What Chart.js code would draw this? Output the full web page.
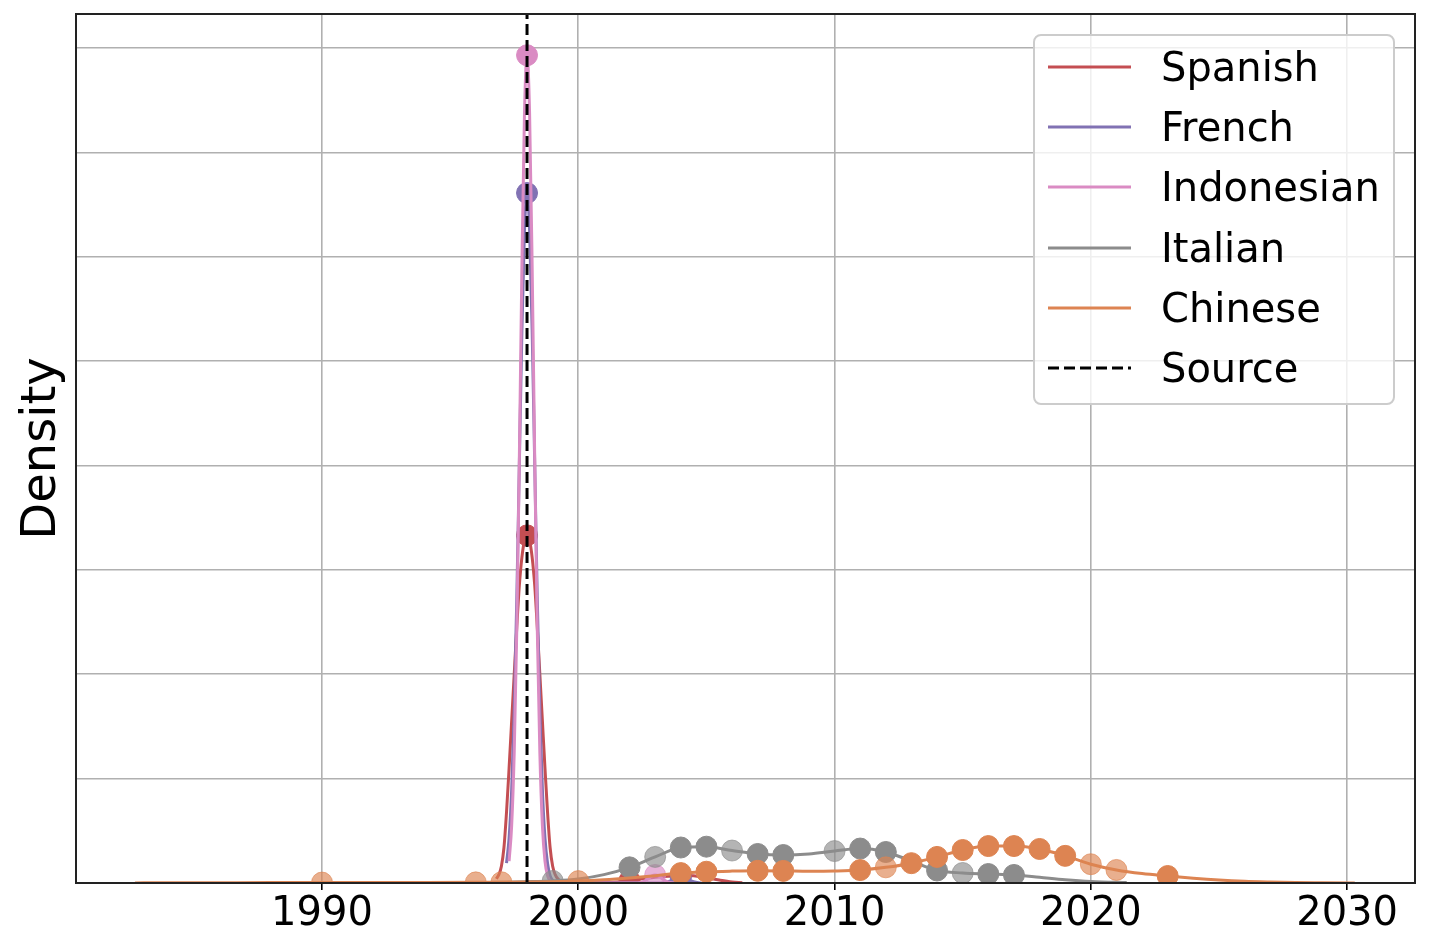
<!DOCTYPE html>
<html>
<head>
<meta charset="utf-8">
<script src="https://cdn.jsdelivr.net/npm/chart.js@4.4.1/dist/chart.umd.min.js"></script>
<style>
  html, body { margin: 0; padding: 0; background: #fff; }
  #wrap { position: relative; width: 1430px; height: 952px; }
  #legend {
    position: absolute; left: 1033px; top: 34px; width: 362px; height: 371px;
    box-sizing: border-box; border: 2px solid #cccccc; border-radius: 8px;
    background: rgba(255,255,255,0.8);
    font-family: 'DejaVu Sans', sans-serif; font-size: 40px; color: #000;
  }
  .row { position: absolute; left: 0; width: 100%; height: 40px; }
  .row svg { position: absolute; left: 13px; top: 15px; }
  .row span { position: absolute; left: 126px; top: 0; line-height: 40px; white-space: nowrap; }
</style>
</head>
<body>
<div id="wrap">
  <canvas id="kde" width="1430" height="952"></canvas>
  <div id="legend"></div>
</div>
<script>
// KDE of first-appearance years per language, with the source year marked.

const tickYears = [1990, 2000, 2010, 2020, 2030];
const densityGrid = [0, 1, 2, 3, 4, 5, 6, 7, 8];
const densityTop = 8.325;
const sourceYear = 1998;

// curves
const spanishYears = [1996.8, 1996.9, 1997.0, 1997.1, 1997.2, 1997.3, 1997.4, 1997.5, 1997.6, 1997.7, 1997.8, 1997.9, 1998.0,
  1998.1, 1998.2, 1998.3, 1998.4, 1998.5, 1998.6, 1998.7, 1998.8, 1998.9, 1999.0, 1999.1, 1999.2, 1999.3, 1999.6,
  2000, 2001, 2001.5, 2002, 2002.5, 2003, 2003.5, 2004, 2004.5, 2005, 2005.5, 2006, 2006.4];
const spanishDensity = [0.04, 0.08, 0.16, 0.34, 0.68, 1.1, 1.55, 2.0, 2.45, 2.85, 3.12, 3.28, 3.33,
  3.28, 3.12, 2.85, 2.45, 2.0, 1.55, 1.1, 0.68, 0.34, 0.16, 0.08, 0.04, 0.02, 0.01,
  0.006, 0.005, 0.01, 0.025, 0.04, 0.055, 0.065, 0.072, 0.07, 0.05, 0.028, 0.01, 0.003];

const frenchYears = [1997.2, 1997.3, 1997.4, 1997.5, 1997.6, 1997.7, 1997.8, 1997.9, 1998.0,
  1998.1, 1998.2, 1998.3, 1998.4, 1998.5, 1998.6, 1998.7, 1998.8, 1998.9, 1999.1, 1999.5,
  2003.2, 2003.5, 2003.7, 2003.85, 2004.0, 2004.15, 2004.3, 2004.5, 2004.8];
const frenchDensity = [0.19, 0.43, 0.89, 1.65, 2.72, 4.01, 5.29, 6.25, 6.61,
  6.25, 5.29, 4.01, 2.72, 1.65, 0.89, 0.43, 0.19, 0.07, 0.01, 0.0,
  0.0, 0.012, 0.03, 0.045, 0.05, 0.045, 0.03, 0.012, 0.0];

const indonesianYears = [1997.3, 1997.4, 1997.5, 1997.6, 1997.7, 1997.8, 1997.9, 1998.0,
  1998.1, 1998.2, 1998.3, 1998.4, 1998.5, 1998.6, 1998.7, 1998.8, 1999.0, 1999.3,
  2002.3, 2002.5, 2002.7, 2002.85, 2003.0, 2003.15, 2003.3, 2003.5, 2003.8];
const indonesianDensity = [0.21, 0.55, 1.25, 2.43, 4.07, 5.9, 7.37, 7.93,
  7.37, 5.9, 4.07, 2.43, 1.25, 0.55, 0.21, 0.07, 0.01, 0.0,
  0.0, 0.01, 0.035, 0.065, 0.077, 0.065, 0.035, 0.01, 0.0];

const italianYears = [1995, 1996, 1997, 1998, 1999, 2000, 2001, 2002, 2003, 2004, 2005, 2006, 2007, 2008,
  2009, 2010, 2011, 2012, 2013, 2014, 2015, 2016, 2017, 2018, 2019, 2020, 2021, 2021.4];
const italianDensity = [0.001, 0.003, 0.007, 0.012, 0.02, 0.038, 0.08, 0.15, 0.25, 0.34, 0.348, 0.311, 0.278, 0.268,
  0.278, 0.306, 0.33, 0.297, 0.21, 0.12, 0.096, 0.086, 0.077, 0.055, 0.032, 0.015, 0.006, 0.004];

const chineseYears = [1982.7, 1984, 1986, 1988, 1990, 1992, 1994, 1996, 1997, 1998, 1999, 2000, 2001, 2002, 2003,
  2004, 2005, 2006, 2007, 2008, 2009, 2010, 2011, 2012, 2013, 2014, 2015, 2016, 2017, 2018, 2019, 2020,
  2021, 2022, 2023, 2024, 2025, 2026, 2027, 2028, 2029, 2030.3];
const chineseDensity = [0.001, 0.002, 0.003, 0.004, 0.004, 0.004, 0.005, 0.006, 0.007, 0.009, 0.012, 0.018, 0.03, 0.048, 0.07,
  0.095, 0.108, 0.114, 0.117, 0.116, 0.113, 0.115, 0.124, 0.15, 0.19, 0.25, 0.316, 0.354, 0.354, 0.326, 0.26, 0.18,
  0.125, 0.09, 0.067, 0.046, 0.029, 0.017, 0.01, 0.005, 0.003, 0.001];

// observed years (faded = lighter dot)
const spanishPtYears = [1998, 2002, 2004];
const spanishPtDensity = [3.33, 0.025, 0.072];
const spanishPtFaded = [0, 0, 0];

const frenchPtYears = [1998, 2004];
const frenchPtDensity = [6.61, 0.05];
const frenchPtFaded = [0, 0];

const indonesianPtYears = [1998, 2003];
const indonesianPtDensity = [7.93, 0.077];
const indonesianPtFaded = [0, 1];

const italianPtYears = [1999, 2002, 2003, 2004, 2005, 2006, 2007, 2008, 2010, 2011, 2012, 2014, 2015, 2016, 2017];
const italianPtDensity = [0.02, 0.15, 0.25, 0.34, 0.348, 0.311, 0.278, 0.268, 0.306, 0.33, 0.297, 0.12, 0.096, 0.086, 0.077];
const italianPtFaded = [1, 0, 1, 0, 0, 1, 0, 0, 1, 0, 0, 0, 1, 0, 0];

const chinesePtYears = [1990, 1996, 1997, 2000, 2004, 2005, 2007, 2008, 2011, 2012, 2013, 2014, 2015, 2016, 2017, 2018, 2019, 2020, 2021, 2023];
const chinesePtDensity = [0.004, 0.006, 0.007, 0.018, 0.095, 0.108, 0.117, 0.116, 0.124, 0.15, 0.19, 0.25, 0.316, 0.354, 0.354, 0.326, 0.26, 0.18, 0.125, 0.067];
const chinesePtFaded = [1, 1, 1, 1, 0, 0, 0, 0, 0, 1, 0, 0, 0, 0, 0, 0, 0, 1, 1, 0];

const languages = [
  { label: 'Spanish', color: '#C44E52', years: spanishYears, density: spanishDensity, pYears: spanishPtYears, pDensity: spanishPtDensity, pFaded: spanishPtFaded },
  { label: 'French', color: '#8172B3', years: frenchYears, density: frenchDensity, pYears: frenchPtYears, pDensity: frenchPtDensity, pFaded: frenchPtFaded },
  { label: 'Indonesian', color: '#DA8BC3', years: indonesianYears, density: indonesianDensity, pYears: indonesianPtYears, pDensity: indonesianPtDensity, pFaded: indonesianPtFaded },
  { label: 'Italian', color: '#8C8C8C', years: italianYears, density: italianDensity, pYears: italianPtYears, pDensity: italianPtDensity, pFaded: italianPtFaded },
  { label: 'Chinese', color: '#DD8452', years: chineseYears, density: chineseDensity, pYears: chinesePtYears, pDensity: chinesePtDensity, pFaded: chinesePtFaded },
];

const FONT = "'DejaVu Sans', sans-serif";

function rgba(hex, a) {
  const n = parseInt(hex.slice(1), 16);
  return `rgba(${(n >> 16) & 255},${(n >> 8) & 255},${n & 255},${a})`;
}

const zip = (xs, ys) => xs.map((x, i) => ({ x, y: ys[i] }));

const datasets = [];
languages.forEach((lang, i) => {
  datasets.push({
    data: zip(lang.years, lang.density),
    showLine: true,
    borderColor: lang.color,
    borderWidth: 3,
    pointRadius: 0,
    cubicInterpolationMode: 'monotone',
    fill: false,
    clip: 0,
    order: 11 - 2 * i,
  });
  const cols = lang.pFaded.map(f => rgba(lang.color, f ? 0.65 : 1));
  datasets.push({
    data: zip(lang.pYears, lang.pDensity),
    showLine: false,
    pointRadius: 10.5,
    pointBorderWidth: 1,
    pointBackgroundColor: cols,
    pointBorderColor: cols,
    clip: 0,
    order: 10 - 2 * i,
  });
});
datasets.push({
  data: [{ x: sourceYear, y: 0 }, { x: sourceYear, y: densityTop }],
  showLine: true,
  borderColor: '#000',
  borderWidth: 3,
  borderDash: [11, 5],
  pointRadius: 0,
  tension: 0,
  clip: 0,
  order: 1,
});

const frame = {
  id: 'frame',
  afterDraw(chart) {
    const { ctx, chartArea: a } = chart;
    ctx.save();
    ctx.strokeStyle = '#222';
    ctx.lineWidth = 2;
    ctx.strokeRect(a.left, a.top, a.right - a.left, a.bottom - a.top);
    ctx.restore();
  }
};

new Chart(document.getElementById('kde'), {
  type: 'scatter',
  data: { datasets },
  plugins: [frame],
  options: {
    responsive: false,
    animation: false,
    devicePixelRatio: 1,
    layout: { padding: { top: 14, right: 15, left: 0, bottom: 0 } },
    plugins: { legend: { display: false }, tooltip: { enabled: false } },
    scales: {
      x: {
        type: 'linear', min: 1980.4, max: 2032.65,
        afterBuildTicks: s => { s.ticks = tickYears.map(v => ({ value: v })); },
        afterFit: s => { s.height = 69; },
        border: { display: false },
        grid: { color: '#b0b0b0', lineWidth: 1.6, drawTicks: true, tickLength: 7, tickColor: '#000', tickWidth: 1.6 },
        ticks: { color: '#000', font: { family: FONT, size: 40, lineHeight: 1 }, padding: 5, maxRotation: 0, autoSkip: false, callback: v => String(v) },
      },
      y: {
        type: 'linear', min: 0, max: densityTop,
        afterBuildTicks: s => { s.ticks = densityGrid.map(v => ({ value: v })); },
        afterFit: s => { s.width = 76; },
        border: { display: false },
        grid: { color: '#b0b0b0', lineWidth: 1.6, drawTicks: false },
        ticks: { display: false },
        title: { display: true, text: 'Density', color: '#000', font: { family: FONT, size: 48, lineHeight: 1 }, padding: { top: 19, bottom: 0 } },
      },
    },
  },
});

// legend, same order as the figure
const legendItems = languages.map(l => ({ label: l.label, color: l.color, dash: '' }))
  .concat([{ label: 'Source', color: '#000', dash: '11 5' }]);
document.getElementById('legend').innerHTML = legendItems.map((it, i) => `
  <div class="row" style="top:${11 + i * 60.2}px">
    <svg width="83" height="10"><line x1="0" y1="5" x2="83" y2="5" stroke="${it.color}" stroke-width="3" ${it.dash ? `stroke-dasharray="${it.dash}"` : ''}/></svg>
    <span>${it.label}</span>
  </div>`).join('');
</script>
</body>
</html>
